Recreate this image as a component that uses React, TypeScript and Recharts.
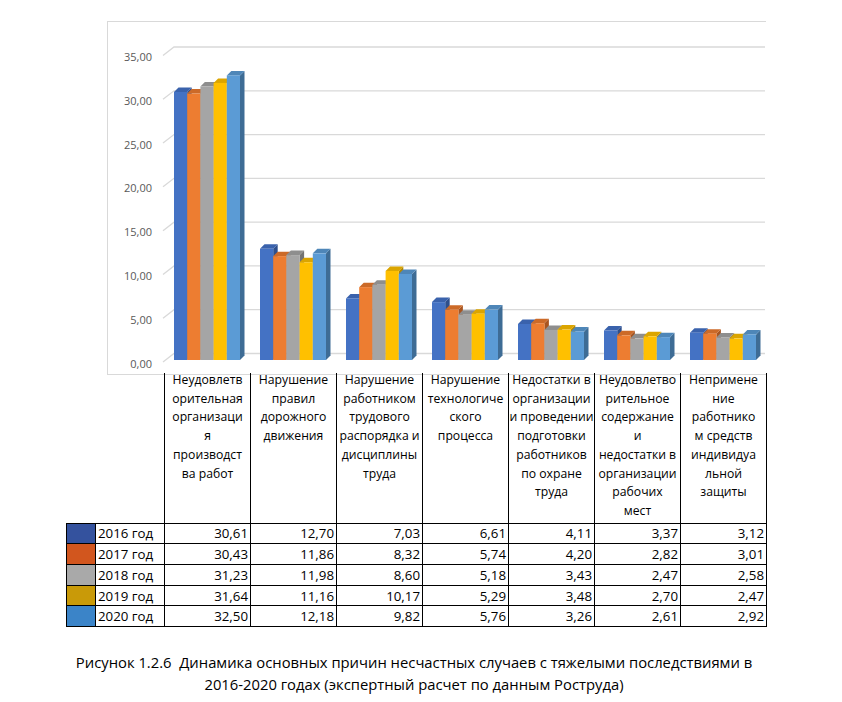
import React from 'react';
import { BarChart, Bar, XAxis, YAxis, CartesianGrid } from 'recharts';

const categories = [
  'Неудовлетворительная организация производства работ',
  'Нарушение правил дорожного движения',
  'Нарушение работником трудового распорядка и дисциплины труда',
  'Нарушение технологического процесса',
  'Недостатки в организации и проведении подготовки работников по охране труда',
  'Неудовлетворительное содержание и недостатки в организации рабочих мест',
  'Неприменение работником средств индивидуальной защиты',
];

const categoryLines = [
  ['Неудовлетв', 'орительная', 'организаци', 'я', 'производст', 'ва работ'],
  ['Нарушение', 'правил', 'дорожного', 'движения'],
  ['Нарушение', 'работником', 'трудового', 'распорядка и', 'дисциплины', 'труда'],
  ['Нарушение', 'технологиче', 'ского', 'процесса'],
  ['Недостатки в', 'организации', 'и проведении', 'подготовки', 'работников', 'по охране', 'труда'],
  ['Неудовлетво', 'рительное', 'содержание', 'и', 'недостатки в', 'организации', 'рабочих', 'мест'],
  ['Непримене', 'ние', 'работнико', 'м средств', 'индивидуа', 'льной', 'защиты'],
];

const seriesNames = ['2016 год', '2017 год', '2018 год', '2019 год', '2020 год'];
const values2016 = [30.61, 12.7, 7.03, 6.61, 4.11, 3.37, 3.12];
const values2017 = [30.43, 11.86, 8.32, 5.74, 4.2, 2.82, 3.01];
const values2018 = [31.23, 11.98, 8.6, 5.18, 3.43, 2.47, 2.58];
const values2019 = [31.64, 11.16, 10.17, 5.29, 3.48, 2.7, 2.47];
const values2020 = [32.5, 12.18, 9.82, 5.76, 3.26, 2.61, 2.92];
const seriesValues = [values2016, values2017, values2018, values2019, values2020];

const yTicks = [0, 5, 10, 15, 20, 25, 30, 35];
const caption = [
  'Рисунок 1.2.6  Динамика основных причин несчастных случаев с тяжелыми последствиями в',
  '2016-2020 годах (экспертный расчет по данным Роструда)',
];

const frontColors = ['#4472C4', '#ED7D31', '#A5A5A5', '#FFC000', '#5B9BD5'];
const topColors = ['#3A62AC', '#CC6A28', '#8E8E8E', '#DBA500', '#4E86B8'];
const sideColors = ['#2E4F8C', '#A85520', '#737373', '#B38700', '#3E6C95'];
const swatchColors = ['#34529E', '#D2561E', '#A9A9A9', '#C99A08', '#3B84C8'];

const keys = ['y2016', 'y2017', 'y2018', 'y2019', 'y2020'];
const data = categories.map((name, i) => {
  const row: any = { name };
  keys.forEach((k, s) => (row[k] = seriesValues[s][i]));
  return row;
});

const fmt = (v: number) => v.toFixed(2).replace('.', ',');
const FONT = '"Open Sans", sans-serif';

const DEPTH = 4.5;
const make3D = (s: number) => (props: any) => {
  const { x, y, width, height } = props;
  if (height == null || width == null) return <g />;
  const d = DEPTH;
  return (
    <g>
      <polygon
        points={`${x + width},${y} ${x + width + d},${y - d} ${x + width + d},${y + height - d} ${x + width},${y + height}`}
        fill={sideColors[s]}
      />
      <polygon
        points={`${x},${y} ${x + d},${y - d} ${x + width + d},${y - d} ${x + width},${y}`}
        fill={topColors[s]}
      />
      <rect x={x} y={y} width={width} height={height} fill={frontColors[s]} />
    </g>
  );
};

const YTick = (props: any) => {
  const { y, payload } = props;
  return (
    <text x={152} y={y + 3} textAnchor="end" dominantBaseline="central" fontSize={11} fill="#595959" fontFamily={FONT}>
      {fmt(payload.value)}
    </text>
  );
};

const gridLine = (props: any) => {
  const y = props.y1;
  return (
    <path
      key={`grid-${props.index}`}
      d={`M163,${y + 2} L174,${y - 6.5} L765,${y - 6.5}`}
      stroke="#D9D9D9"
      strokeWidth={1.3}
      fill="none"
    />
  );
};

const PLOT_LEFT = 164;
const BAND = 86;
const B = '1.5px solid #000';

export default function App() {
  return (
    <div style={{ position: 'absolute', left: 0, top: 0, width: 842, height: 702, background: '#fff', fontFamily: FONT }}>
      <div
        style={{
          position: 'absolute',
          left: 107,
          top: 21,
          width: 658,
          height: 352,
          borderTop: '1px solid #D9D9D9',
          borderLeft: '1px solid #D9D9D9',
          borderBottom: '1px solid #D9D9D9',
        }}
      />
      <div style={{ position: 'absolute', left: 0, top: 0 }}>
        <BarChart
          width={842}
          height={380}
          data={data}
          margin={{ top: 53.5, right: 842 - (PLOT_LEFT + BAND * 7), bottom: 20, left: 0 }}
          barSize={13.2}
          barGap={0}
        >
          <CartesianGrid vertical={false} horizontal={gridLine} />
          <XAxis dataKey="name" hide />
          <YAxis
            width={PLOT_LEFT}
            domain={[0, 35]}
            ticks={yTicks}
            axisLine={false}
            tickLine={false}
            tick={<YTick />}
            interval={0}
          />
          {keys.map((k, s) => (
            <Bar key={k} dataKey={k} name={seriesNames[s]} shape={make3D(s)} isAnimationActive={false} />
          ))}
        </BarChart>
      </div>
      <table
        style={{
          position: 'absolute',
          left: 66,
          top: 373,
          borderCollapse: 'collapse',
          tableLayout: 'fixed',
          width: 29 + 69 + BAND * 7,
          fontFamily: FONT,
          color: '#000',
        }}
      >
        <colgroup>
          <col style={{ width: 29 }} />
          <col style={{ width: 69 }} />
          {categories.map((c) => (
            <col key={c} style={{ width: BAND }} />
          ))}
        </colgroup>
        <tbody>
          <tr style={{ height: 148 }}>
            <td colSpan={2} style={{ border: 'none', padding: 0 }} />
            {categoryLines.map((lines, i) => (
              <td
                key={i}
                style={{
                  borderLeft: B,
                  borderRight: B,
                  borderBottom: B,
                  borderTop: 'none',
                  verticalAlign: 'top',
                  textAlign: 'center',
                  padding: 0,
                  fontSize: 12.2,
                  lineHeight: '18.7px',
                }}
              >
                <div style={{ position: 'relative', top: -2 }}>
                  {lines.map((l, j) => (
                    <div key={j} style={{ whiteSpace: 'nowrap' }}>{l}</div>
                  ))}
                </div>
              </td>
            ))}
          </tr>
          {seriesNames.map((sn, s) => (
            <tr key={sn} style={{ height: 20.7 }}>
              <td style={{ border: B, background: swatchColors[s], padding: 0 }} />
              <td style={{ border: B, padding: '0 0 0 2px', fontSize: 13.3, lineHeight: '18px', whiteSpace: 'nowrap' }}>{sn}</td>
              {seriesValues[s].map((v, i) => (
                <td
                  key={i}
                  style={{ border: B, padding: '0 2px 0 0', textAlign: 'right', fontSize: 13.3, lineHeight: '18px' }}
                >
                  {fmt(v)}
                </td>
              ))}
            </tr>
          ))}
        </tbody>
      </table>
      <div
        style={{
          position: 'absolute',
          left: 0,
          top: 651,
          width: 828,
          textAlign: 'center',
          fontSize: 14.8,
          lineHeight: '22px',
          color: '#000',
          fontFamily: FONT,
        }}
      >
        {caption.map((c, i) => (
          <div key={i} style={{ whiteSpace: 'pre' }}>{c}</div>
        ))}
      </div>
    </div>
  );
}
